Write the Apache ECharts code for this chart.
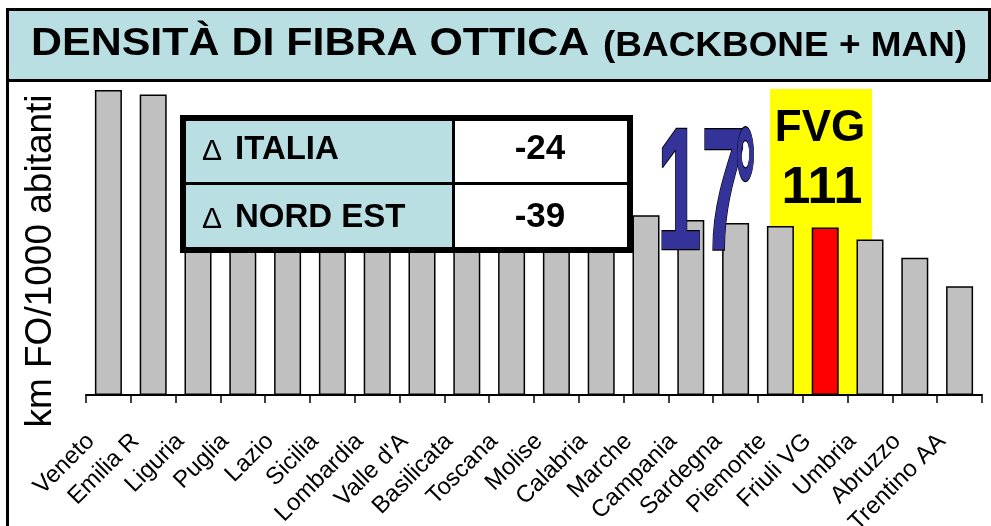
<!DOCTYPE html>
<html>
<head>
<meta charset="utf-8">
<script src="https://cdn.jsdelivr.net/npm/echarts@6/dist/echarts.min.js"></script>
<style>
  html, body { margin: 0; padding: 0; background: #fff; }
  #chart { width: 991px; height: 526px; }
</style>
</head>
<body>
<div id="chart"></div>
<script>
// regions, sorted by density (km FO / 1000 abitanti)
const regions = ['Veneto', 'Emilia R', 'Liguria', 'Puglia', 'Lazio', 'Sicilia',
  'Lombardia', "Valle d'A", 'Basilicata', 'Toscana', 'Molise', 'Calabria',
  'Marche', 'Campania', 'Sardegna', 'Piemonte', 'Friuli VG', 'Umbria',
  'Abruzzo', 'Trentino AA'];
const density = [202, 199, 178, 170, 162, 155, 148, 142, 136, 131, 126, 122,
  119, 116, 114, 112, 111, 103, 91, 72];
const highlight = 'Friuli VG';

// summary table
const deltaLabels = ['ITALIA', 'NORD EST'];
const deltaValues = ['-24', '-39'];
const rankNumber = '17';
const fvgLabel = 'FVG';
const fvgValue = '111';

const FONT = 'Arial, "Liberation Sans", sans-serif';
const GRAY = '#c0c0c0';
const LIGHT_BLUE = '#b9dfe3';

const chart = echarts.init(document.getElementById('chart'));

function txt(x, y, text, size, opts) {
  opts = opts || {};
  const align = opts.align || 'left';
  return {
    type: 'text',
    x: x,
    y: y,
    z: opts.z || 20,
    rotation: opts.rotation || 0,
    scaleX: opts.scaleX || 1,
    style: {
      text: text,
      font: (opts.bold ? 'bold ' : '') + size + 'px ' + FONT,
      fill: opts.fill || '#000',
      stroke: opts.stroke,
      lineWidth: opts.lineWidth || 0,
      align: align,
      verticalAlign: 'middle',
      textAlign: align,
      textVerticalAlign: 'middle'
    }
  };
}

// table rows: label cell + value cell
const tableEls = [];
deltaLabels.forEach((lab, i) => {
  const base = 162 + i * 68;
  tableEls.push(txt(202, base - 10, 'Δ', 30));
  tableEls.push(txt(235, base - 12, lab, 33, {bold: true}));
  tableEls.push(txt(540, base - 12.5, deltaValues[i], 35, {bold: true, align: 'center'}));
});

const option = {
  animation: false,
  backgroundColor: '#fff',
  grid: {
    left: 86, right: 9, top: 81, bottom: 131,
    containLabel: false,
    outerBoundsMode: 'none'
  },
  xAxis: {
    type: 'category',
    data: regions,
    axisLine: {show: true, onZero: false, lineStyle: {color: '#000', width: 2}},
    axisTick: {show: true, length: 8, lineStyle: {color: '#000', width: 1.5}},
    axisLabel: {
      rotate: 45,
      margin: 25,
      padding: [0, 25, 0, 0],
      color: '#000',
      fontSize: 24,
      fontFamily: FONT,
      interval: 0
    }
  },
  yAxis: {
    type: 'value',
    min: 0,
    max: 208,
    show: false,
    splitLine: {show: false}
  },
  series: [{
    type: 'bar',
    barWidth: 27,
    z: 2,
    data: regions.map((r, i) => ({
      value: density[i],
      itemStyle: {color: r === highlight ? '#ff0000' : GRAY}
    })),
    itemStyle: {borderColor: '#000', borderWidth: 1.5}
  }],
  graphic: [
    // title band
    {
      type: 'rect', z: 30,
      shape: {x: 7.5, y: 9.5, width: 982, height: 71},
      style: {fill: LIGHT_BLUE, stroke: '#000', lineWidth: 3}
    },
    {
      type: 'line', z: 30,
      shape: {x1: 7.5, y1: 80, x2: 7.5, y2: 530},
      style: {stroke: '#000', lineWidth: 3}
    },
    txt(31, 45, 'DENSITÀ DI FIBRA OTTICA', 38, {bold: true, scaleX: 1.13, z: 31}),
    txt(603, 46, '(BACKBONE + MAN)', 35, {bold: true, scaleX: 1.055, z: 31}),
    // y axis name
    txt(40.5, 261, 'km FO/1000 abitanti', 37, {rotation: Math.PI / 2, align: 'center'}),
    // yellow highlight band behind FVG
    {
      type: 'rect', z: 1,
      shape: {x: 770, y: 89, width: 102, height: 305},
      style: {fill: '#ffff00'}
    },
    txt(820, 129, fvgLabel, 44, {bold: true, align: 'center'}),
    txt(822, 189, fvgValue, 52, {bold: true, align: 'center'}),
    // rank
    txt(657, 201, rankNumber, 174, {bold: true, fill: '#333399', stroke: '#000', lineWidth: 2.5, scaleX: 0.46}),
    txt(735, 201, '°', 174, {bold: true, fill: '#333399', stroke: '#000', lineWidth: 2.5, scaleX: 0.3}),
    // table
    {
      type: 'rect', z: 15,
      shape: {x: 183, y: 118, width: 271, height: 132},
      style: {fill: LIGHT_BLUE}
    },
    {
      type: 'rect', z: 15,
      shape: {x: 454, y: 118, width: 176, height: 132},
      style: {fill: '#fff'}
    },
    {
      type: 'line', z: 16,
      shape: {x1: 183, y1: 183.5, x2: 630, y2: 183.5},
      style: {stroke: '#000', lineWidth: 3}
    },
    {
      type: 'line', z: 16,
      shape: {x1: 453.5, y1: 118, x2: 453.5, y2: 250},
      style: {stroke: '#000', lineWidth: 3}
    },
    {
      type: 'rect', z: 17,
      shape: {x: 183, y: 118, width: 447, height: 132},
      style: {fill: 'none', stroke: '#000', lineWidth: 6}
    }
  ].concat(tableEls)
};

chart.setOption(option);
</script>
</body>
</html>
